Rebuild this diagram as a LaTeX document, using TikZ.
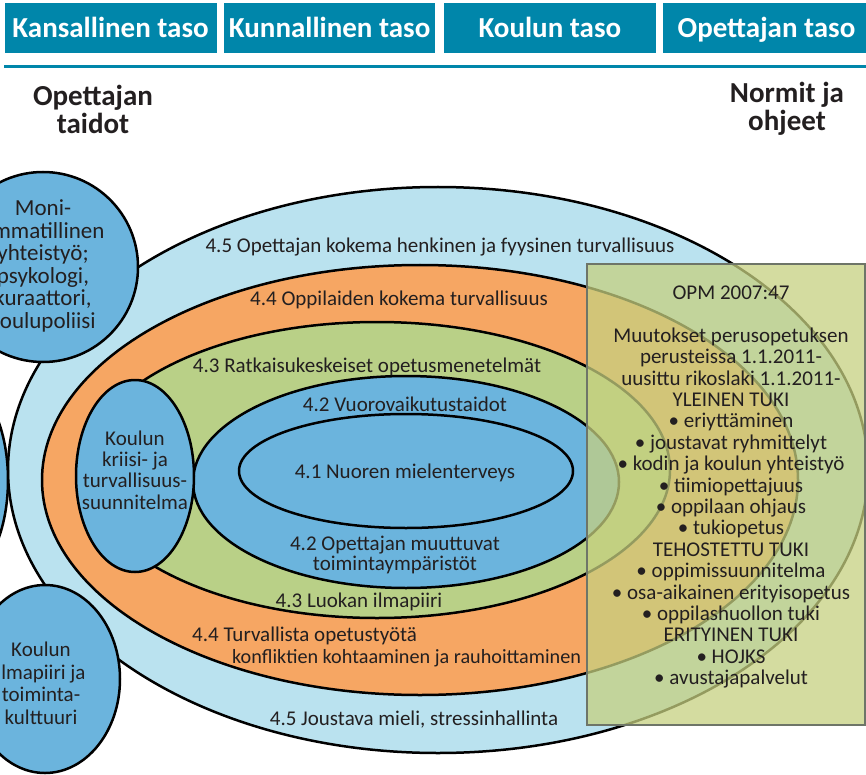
\documentclass[tikz,border=0pt]{standalone}
\usepackage{fontspec}
\setmainfont{Carlito}
\usetikzlibrary{shapes.geometric}

\definecolor{headteal}{RGB}{0,134,170}
\definecolor{ink}{RGB}{35,31,32}
\definecolor{ringouter}{RGB}{186,226,239}
\definecolor{ringorange}{RGB}{246,166,99}
\definecolor{ringgreen}{RGB}{185,208,135}
\definecolor{ringblue}{RGB}{107,180,221}
\definecolor{panelfill}{RGB}{198,208,128}
\definecolor{panelrule}{RGB}{110,117,104}

\tikzset{
  headbox/.style={fill=headteal, text=white, inner sep=0,
    minimum height=50, text height=20, text depth=0,
    font=\fontsize{29}{30}\selectfont\bfseries},
  sidehead/.style={text=ink, align=center, inner sep=0,
    font=\fontsize{29}{28}\selectfont\bfseries},
  ring/.style={draw=black, line width=2.5},
  lbl/.style={text=ink, inner sep=0, font=\fontsize{21}{21.4}\selectfont},
  mlbl/.style={lbl, align=center, font=\fontsize{21}{22.5}\selectfont},
  panel/.style={draw=panelrule, line width=2.5, fill=panelfill, fill opacity=0.75},
}

\begin{document}
\begin{tikzpicture}[x=1pt, y=-1pt]
\useasboundingbox (0,0) rectangle (866,775);
\begin{scope}
\clip (0,0) rectangle (866,775);

% level headers
\node[headbox, minimum width=212] (hnat) at (110.5,28) {Kansallinen taso};
\node[headbox, minimum width=211] (hmun) at (329.5,28) {Kunnallinen taso};
\node[headbox, minimum width=211.6] (hsch) at (549.8,28) {Koulun taso};
\node[headbox, minimum width=207] (htea) at (766.5,28) {Opettajan taso};
\coordinate (ruleL) at (4,67);
\coordinate (ruleR) at (866,67);
\draw[headteal, line width=3] (ruleL) -- (ruleR);

\node[sidehead] (skills) at (93,109) {Opettajan\\taidot};
\node[sidehead] (norms) at (787,109) {Normit ja\\ohjeet};

% nested rings
\draw[ring, fill=ringouter]  (438,470) ellipse [x radius=430, y radius=283];
\draw[ring, fill=ringorange] (420,480) ellipse [x radius=378, y radius=215];
\draw[ring, fill=ringgreen]  (377,470) ellipse [x radius=293, y radius=148];
\draw[ring, fill=ringblue]   (406,482) ellipse [x radius=213, y radius=106];
\draw[ring, fill=ringblue]   (406,471) ellipse [x radius=167, y radius=57];

% side bubbles
\draw[ring, fill=ringblue] (135,476) ellipse [x radius=59, y radius=96];
\draw[ring, fill=ringblue] (43,267) circle [radius=95];
\draw[ring, fill=ringblue] (-42,480) ellipse [x radius=50, y radius=100];
\draw[ring, fill=ringblue] (45,679) ellipse [x radius=75, y radius=94];

\node[mlbl, font=\fontsize{23}{22.5}\selectfont] (multi) at (43,266) {Moni-\\ammatillinen\\yhteistyö;\\psykologi,\\kuraattori,\\koulupoliisi};
\node[mlbl, font=\fontsize{21}{21.4}\selectfont] (crisis) at (135,470) {Koulun\\kriisi- ja\\turvallisuus-\\suunnitelma};
\node[mlbl] (climate) at (41,683.5) {Koulun\\ilmapiiri ja\\toiminta-\\kulttuuri};

% ring labels
\node[lbl] (t45a) at (440,247) {4.5 Opettajan kokema henkinen ja fyysinen turvallisuus};
\node[lbl] (t44a) at (399,300) {4.4 Oppilaiden kokema turvallisuus};
\node[lbl] (t43a) at (367,367) {4.3 Ratkaisukeskeiset opetusmenetelmät};
\node[lbl] (t42a) at (405,404) {4.2 Vuorovaikutustaidot};
\node[lbl] (t41)  at (405,473) {4.1 Nuoren mielenterveys};
\node[mlbl, font=\fontsize{21}{20.5}\selectfont] (t42b) at (395,555) {4.2 Opettajan muuttuvat\\toimintaympäristöt};
\node[lbl] (t43b) at (359,602) {4.3 Luokan ilmapiiri};
\node[lbl, anchor=west] (t44b) at (192,636) {4.4 Turvallista opetustyötä};
\node[lbl, anchor=west, font=\fontsize{20.2}{21}\selectfont] (t44c) at (232,658) {konfliktien kohtaaminen ja rauhoittaminen};
\node[lbl] (t45b) at (414,720) {4.5 Joustava mieli, stressinhallinta};

% norms panel
\draw[panel] (587,264) rectangle (865,725);
\node[lbl, align=center] (normtext) at (731,487) {OPM 2007:47\\[21.4pt]
Muutokset perusopetuksen\\perusteissa 1.1.2011-\\uusittu rikoslaki 1.1.2011-\\
YLEINEN TUKI\\• eriyttäminen\\• joustavat ryhmittelyt\\• kodin ja koulun yhteistyö\\
• tiimiopettajuus\\• oppilaan ohjaus\\• tukiopetus\\TEHOSTETTU TUKI\\
• oppimissuunnitelma\\• osa-aikainen erityisopetus\\• oppilashuollon tuki\\
ERITYINEN TUKI\\• HOJKS\\• avustajapalvelut};
\end{scope}
\end{tikzpicture}
\end{document}
